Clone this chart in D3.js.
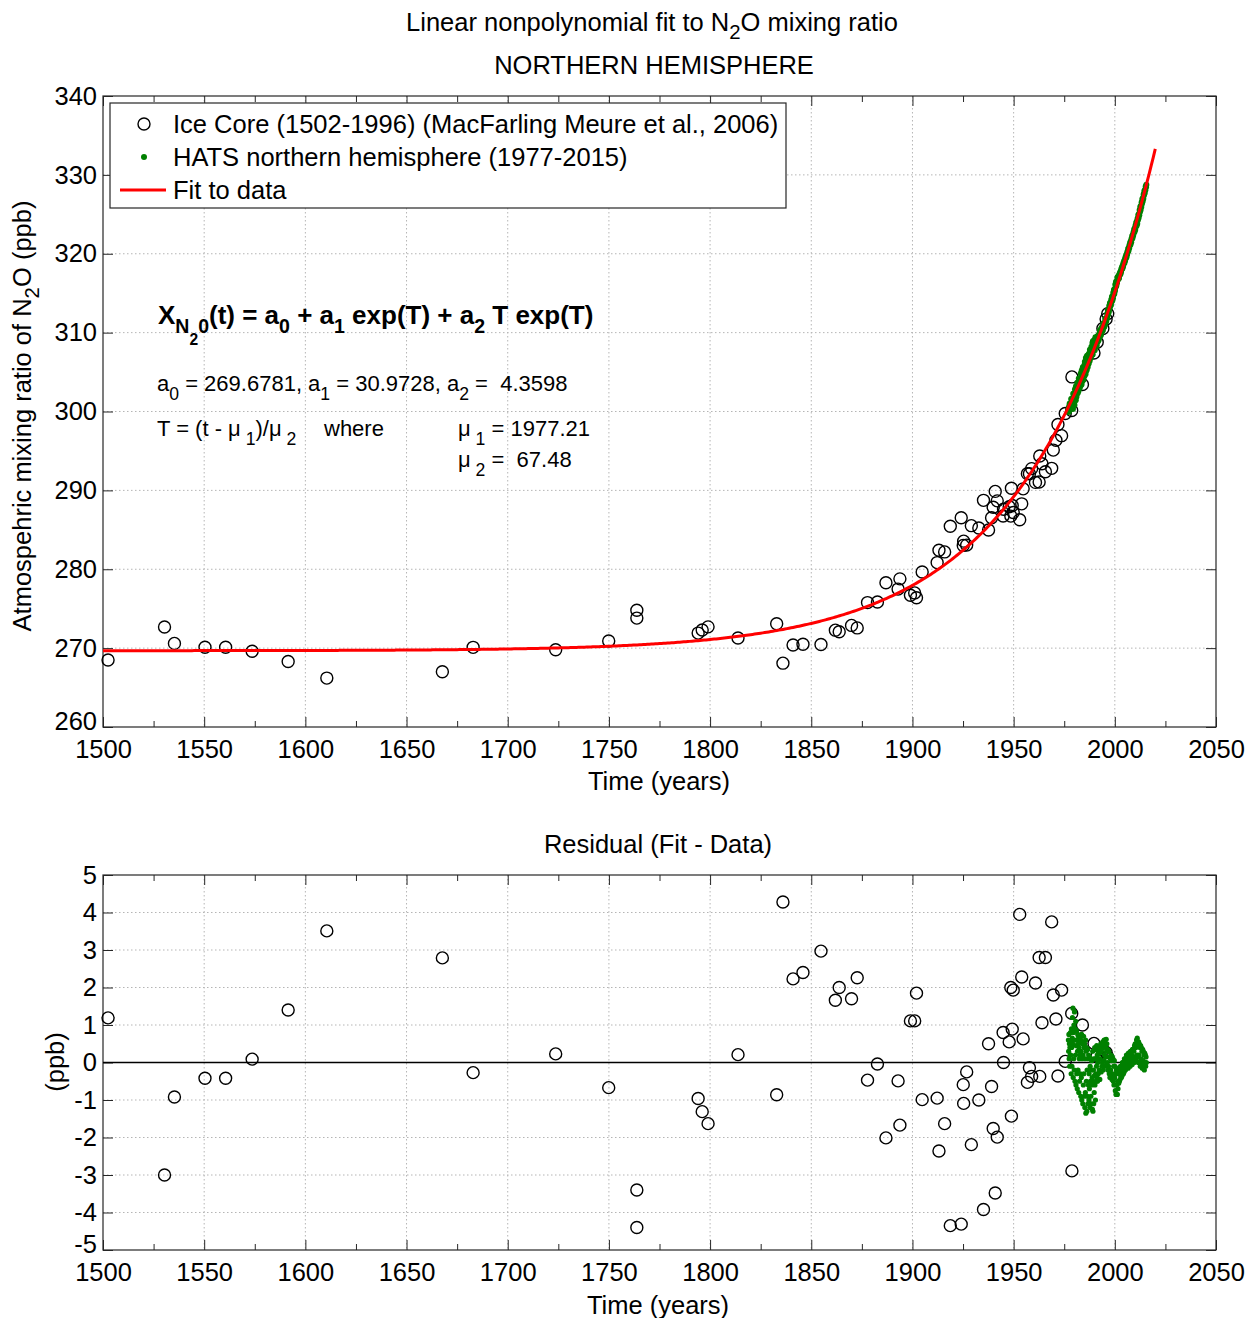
<!DOCTYPE html>
<html><head><meta charset="utf-8">
<script src="https://cdn.jsdelivr.net/npm/d3@7"></script>
<style>
body{margin:0;background:#fff}
svg text{font-family:"Liberation Sans",Arial,Helvetica,sans-serif;white-space:pre;}
</style>
</head><body>
<svg id="chart" width="1248" height="1318"></svg>
<script>
// ---------------- data ----------------
const titleLine1 = "Linear nonpolynomial fit to N";
const titleLine2 = "NORTHERN HEMISPHERE";
const residualTitle = "Residual (Fit - Data)";
const xLabel = "Time (years)";
const legendLabels = ["Ice Core (1502-1996) (MacFarling Meure et al., 2006)", "HATS northern hemisphere (1977-2015)", "Fit to data"];

// fit coefficients shown on the chart
const a0 = 269.6781, a1 = 30.9728, a2 = 4.3598, mu1 = 1977.21, mu2 = 67.48;
const fitStart = 1500, fitEnd = 2020;

const xTicks = [1500,1550,1600,1650,1700,1750,1800,1850,1900,1950,2000,2050];
const xMinorTicks = [1525,1575,1625,1675,1725,1775,1825,1875,1925,1975,2025];
const yTicksTop = [260,270,280,290,300,310,320,330,340];
const yTicksRes = [-5,-4,-3,-2,-1,0,1,2,3,4,5];

// Ice core samples: year and residual (fit - data, ppb)
const iceYears = [1502.5,1530.4,1535.3,1550.4,1560.6,1573.7,1591.5,1610.6,1667.7,1682.9,1723.7,1749.9,1763.8,1763.8,
 1794.1,1796.1,1799.0,1813.8,1832.9,1836.0,1841.0,1845.9,1854.8,1861.9,1863.8,1869.9,1872.7,1877.8,1882.7,1886.9,
 1892.9,1893.8,1899.0,1901.1,1902.0,1904.8,1912.2,1913.1,1915.9,1918.7,1924.1,1925.1,1925.3,1926.8,1929.1,1932.8,
 1935.1,1937.6,1939.1,1939.9,1940.9,1941.9,1944.8,1945.0,1947.8,1948.6,1948.9,1949.3,1949.8,1953.0,1954.0,1954.7,
 1956.8,1957.8,1958.9,1960.8,1962.6,1962.9,1964.0,1965.7,1968.8,1969.6,1970.9,1971.9,1973.7,1975.5,1978.7,1978.8,
 1984.0,1989.7,1991.3,1994.1,1995.7,1996.5];
const iceResidual = [1.19,-3.00,-0.92,-0.42,-0.42,0.09,1.40,3.51,2.79,-0.27,0.23,-0.67,-3.40,-4.40,
 -0.96,-1.31,-1.63,0.21,-0.86,4.28,2.23,2.40,2.97,1.66,2.00,1.70,2.26,-0.47,-0.04,-2.01,
 -0.49,-1.67,1.11,1.11,1.85,-0.99,-0.95,-2.36,-1.63,-4.35,-4.31,-0.59,-1.09,-0.25,-2.19,-1.00,
 -3.92,0.50,-0.64,-1.76,-3.48,-1.99,0.80,0.00,0.55,2.00,-1.43,0.89,1.93,3.95,2.28,0.63,
 -0.53,-0.14,-0.37,2.12,2.80,-0.37,1.06,2.80,3.75,1.80,1.16,-0.36,1.93,0.03,1.31,-2.89,
 1.00,0.51,0.18,0.33,0.27,0.15];

// HATS NH: residuals (fit - data, ppb) for each year, samples spread through the year
const hatsYears = [1977,1978,1979,1980,1981,1982,1983,1984,1985,1986,1987,1988,1989,1990,1991,
 1992,1993,1994,1995,1996,1997,1998,1999,2000,2001,2002,2003,2004,2005,2006,2007,2008,2009,2010,2011,2012,2013,2014,2015];
const hatsResidual = [
 [0.6,0.3,0.75,0.1,0.5,-0.1,0.4,0.2],
 [0.8,0.2,0.55,-0.3,0.9,0.4,-0.1,0.65],
 [1.2,0.5,1.45,-0.4,0.8,0.1,1.0,-0.2],
 [1.35,0.6,-0.5,0.9,0.2,1.1,-0.6,0.45],
 [0.85,-0.3,0.6,-0.7,0.3,0.75,-0.2,0.5],
 [0.7,-0.8,0.4,0.1,-0.5,0.65,0.2,-0.3],
 [0.6,-0.9,0.3,-0.4,0.75,-1.0,0.1,0.5],
 [0.55,-1.1,0.2,-0.6,0.7,-0.3,0.4,-0.9],
 [0.5,-1.2,0.1,-0.8,0.6,-1.35,0.3,-0.5],
 [0.4,-1.3,-0.2,-0.9,0.35,-1.1,0.1,-0.6],
 [0.2,-1.0,-0.3,-0.7,0.15,-1.2,-0.1,-0.5],
 [0.1,-0.9,-0.2,-1.1,0.05,-0.6,-0.4,-1.25],
 [0.3,-1.3,-0.5,-0.2,-1.1,0.1,-0.8,-0.35],
 [0.4,-0.6,0.1,-1.0,-0.3,0.35,-0.5,-0.1],
 [0.45,-0.4,0.2,-0.5,0.0,0.3,-0.3,0.1],
 [0.4,-0.2,0.25,-0.45,0.1,0.35],
 [0.5,-0.25,0.3,-0.1,0.45,0.0],
 [0.55,-0.2,0.4,0.05,0.6,0.2],
 [0.6,-0.1,0.45,0.15,0.62,0.3],
 [0.5,0.0,0.35,-0.2,0.3,-0.1],
 [0.3,-0.3,0.15,-0.4,0.1,-0.2],
 [0.2,-0.35,0.05,-0.45,0.15,-0.3],
 [0.1,-0.5,-0.1,-0.6,0.05,-0.4],
 [-0.1,-0.75,-0.3,-0.85,-0.2,-0.6],
 [-0.3,-0.85,-0.5,-0.7,-0.25,-0.55],
 [-0.15,-0.5,-0.3,-0.45,-0.1,-0.35],
 [-0.1,-0.4,-0.2,-0.35,0.0,-0.25],
 [0.0,-0.3,-0.1,-0.25,0.1,-0.15],
 [0.1,-0.2,0.05,-0.15,0.2,-0.05],
 [0.15,-0.1,0.1,-0.15,0.25,0.0],
 [0.2,-0.05,0.15,-0.1,0.3,0.05],
 [0.3,0.0,0.2,-0.05,0.35,0.1],
 [0.35,0.05,0.3,0.0,0.45,0.15],
 [0.5,0.1,0.4,0.05,0.6,0.2],
 [0.65,0.15,0.5,0.0,0.55,0.2],
 [0.5,0.0,0.4,-0.1,0.45,0.1],
 [0.4,-0.05,0.3,-0.15,0.35,0.05],
 [0.3,-0.1,0.2,-0.2,0.25,0.0],
 [0.2,-0.1,0.15,0.0]
];

// ---------------- derived ----------------
function fitN2O(t){ const T=(t-mu1)/mu2; return a0 + a1*Math.exp(T) + a2*T*Math.exp(T); }
const fitYears = d3.range(fitStart, fitEnd + 0.5, 1);
const icePts = iceYears.map((y,i)=>({t:y, r:iceResidual[i], v:fitN2O(y)-iceResidual[i]}));
const hatsPts = [];
hatsYears.forEach((y,k)=>{ const arr=hatsResidual[k]; arr.forEach((r,i)=>{ const t=y+(i+0.5)/(k===hatsYears.length-1?6:arr.length); hatsPts.push({t, r, v:fitN2O(t)-r}); }); });

// ---------------- layout ----------------
const L=103, R=1216, topT=96, topB=727, botT=875, botB=1250;
const FS=25.5, GREEN="#008000";
const svg = d3.select("#chart");
svg.append("rect").attr("width",1248).attr("height",1318).attr("fill","#fff");

const x = d3.scaleLinear().domain([1500,2050]).range([L,R]);
const yTop = d3.scaleLinear().domain([260,340]).range([topB,topT]);
const yRes = d3.scaleLinear().domain([-5,5]).range([botB,botT]);

function rich(sel, px, py, parts, size, opts={}){
  const t = sel.append("text").attr("x",px).attr("y",py).attr("font-size",size)
    .attr("font-weight",opts.weight||"normal").attr("fill","#000");
  if(opts.anchor) t.attr("text-anchor",opts.anchor);
  if(opts.transform) t.attr("transform",opts.transform).attr("x",0).attr("y",0);
  let cur=0;
  parts.forEach(([s,off,sc])=>{
    const ts=t.append("tspan").text(s).attr("dy",off-cur);
    if(sc) ts.attr("font-size",size*sc);
    cur=off;
  });
  return t;
}

function panel(y, yTicks, top, bot){
  const g = svg.append("g");
  // grid
  g.append("g").selectAll("line").data(xTicks.slice(1,-1)).join("line")
    .attr("x1",d=>x(d)).attr("x2",d=>x(d)).attr("y1",top).attr("y2",bot)
    .attr("stroke","#b5b5b5").attr("stroke-width",1).attr("stroke-dasharray","1.5,2.5");
  g.append("g").selectAll("line").data(yTicks.slice(1,-1)).join("line")
    .attr("y1",d=>y(d)).attr("y2",d=>y(d)).attr("x1",L).attr("x2",R)
    .attr("stroke","#b5b5b5").attr("stroke-width",1).attr("stroke-dasharray","1.5,2.5");
  const style = a => { a.select(".domain").remove(); a.selectAll(".tick line").attr("stroke","#262626").attr("stroke-width",1);
    a.selectAll("text").attr("font-size",FS).attr("fill","#000").attr("font-family",'"Liberation Sans",Arial,sans-serif'); a.attr("font-family",null); };
  const fmt = d => String(d);
  g.append("g").attr("transform",`translate(0,${bot})`)
    .call(d3.axisBottom(x).tickValues(xTicks).tickSize(-10).tickPadding(13).tickFormat(fmt)).call(style);
  g.append("g").attr("transform",`translate(0,${bot})`)
    .call(d3.axisBottom(x).tickValues(xMinorTicks).tickSize(-6).tickFormat("")).call(style);
  g.append("g").attr("transform",`translate(0,${top})`)
    .call(d3.axisTop(x).tickValues(xTicks).tickSize(-10).tickFormat("")).call(style);
  g.append("g").attr("transform",`translate(0,${top})`)
    .call(d3.axisTop(x).tickValues(xMinorTicks).tickSize(-6).tickFormat("")).call(style);
  const yl = g.append("g").attr("transform",`translate(${L},0)`)
    .call(d3.axisLeft(y).tickValues(yTicks).tickSize(-10).tickPadding(6).tickFormat(fmt)).call(style);
  // lowest label sits a touch higher so it clears the first year label
  yl.selectAll(".tick text").filter(d=>d===yTicks[0]).attr("dy","0.1em");
  g.append("g").attr("transform",`translate(${R},0)`)
    .call(d3.axisRight(y).tickValues(yTicks).tickSize(-10).tickFormat("")).call(style);
  g.append("rect").attr("x",L).attr("y",top).attr("width",R-L).attr("height",bot-top)
    .attr("fill","none").attr("stroke","#262626").attr("stroke-width",1.2);
  return g;
}

// ---------- top panel ----------
const gTop = panel(yTop, yTicksTop, topT, topB);
const plotTop = svg.append("g");
plotTop.selectAll("circle.ice").data(icePts).join("circle").attr("class","ice")
  .attr("cx",d=>x(d.t)).attr("cy",d=>yTop(d.v)).attr("r",6)
  .attr("fill","none").attr("stroke","#000").attr("stroke-width",1.4);
plotTop.selectAll("circle.hats").data(hatsPts).join("circle").attr("class","hats")
  .attr("cx",d=>x(d.t)).attr("cy",d=>yTop(d.v)).attr("r",3).attr("fill",GREEN);
plotTop.append("path").datum(fitYears)
  .attr("d",d3.line().x(d=>x(d)).y(d=>yTop(fitN2O(d))))
  .attr("fill","none").attr("stroke","#ff0000").attr("stroke-width",3);

// titles
rich(svg, 652, 31, [[titleLine1,0],["2",8,0.8],["O mixing ratio",0]], FS, {anchor:"middle"});
rich(svg, 654, 74, [[titleLine2,0]], FS, {anchor:"middle"});
rich(svg, 659, 790, [[xLabel,0]], FS, {anchor:"middle"});
rich(svg, 0, 0, [["Atmospehric mixing ratio of N",0],["2",8,0.8],["O (ppb)",0]], FS, {anchor:"middle", transform:"translate(31,416) rotate(-90)"});

// legend
const lg = svg.append("g");
lg.append("rect").attr("x",110).attr("y",103).attr("width",676).attr("height",105)
  .attr("fill","#fff").attr("stroke","#262626").attr("stroke-width",1.2);
lg.append("circle").attr("cx",144).attr("cy",124).attr("r",6).attr("fill","none").attr("stroke","#000").attr("stroke-width",1.4);
lg.append("circle").attr("cx",144).attr("cy",157).attr("r",3).attr("fill",GREEN);
lg.append("line").attr("x1",120).attr("x2",166).attr("y1",190).attr("y2",190).attr("stroke","#ff0000").attr("stroke-width",3);
legendLabels.forEach((s,i)=>{
  lg.append("text").attr("x",173).attr("y",133+i*33).attr("font-size",FS).attr("fill","#000").text(s);
});

// equation annotations
rich(svg, 158, 324, [["X",0],["N",9,0.75],["2",21,0.6],["0",9,0.75],["(t) = a",0],["0",9,0.75],[" + a",0],["1",9,0.75],[" exp(T) + a",0],["2",9,0.75],[" T exp(T)",0]], 26, {weight:"bold"});
rich(svg, 157, 391, [["a",0],["0",9,0.8],[" = 269.6781, a",0],["1",9,0.8],[" = 30.9728, a",0],["2",9,0.8],[" =  4.3598",0]], 22);
rich(svg, 157, 436, [["T = (t - μ",0],[" 1",9,0.8],[")/μ",0],[" 2",9,0.8]], 22);
rich(svg, 324, 436, [["where",0]], 22);
rich(svg, 458, 436, [["μ",0],[" 1",9,0.8],[" = 1977.21",0]], 22);
rich(svg, 458, 467, [["μ",0],[" 2",9,0.8],[" =  67.48",0]], 22);

// ---------- residual panel ----------
const gBot = panel(yRes, yTicksRes, botT, botB);
const plotBot = svg.append("g");
plotBot.append("line").attr("x1",L).attr("x2",R).attr("y1",yRes(0)).attr("y2",yRes(0))
  .attr("stroke","#000").attr("stroke-width",1.3);
plotBot.selectAll("circle.ice").data(icePts).join("circle").attr("class","ice")
  .attr("cx",d=>x(d.t)).attr("cy",d=>yRes(d.r)).attr("r",6)
  .attr("fill","none").attr("stroke","#000").attr("stroke-width",1.4);
plotBot.selectAll("circle.hats").data(hatsPts).join("circle").attr("class","hats")
  .attr("cx",d=>x(d.t)).attr("cy",d=>yRes(d.r)).attr("r",2.6).attr("fill",GREEN);

rich(svg, 658, 853, [[residualTitle,0]], FS, {anchor:"middle"});
rich(svg, 658, 1314, [[xLabel,0]], FS, {anchor:"middle"});
rich(svg, 0, 0, [["(ppb)",0]], FS, {anchor:"middle", transform:"translate(64,1062) rotate(-90)"});
</script>
</body></html>
